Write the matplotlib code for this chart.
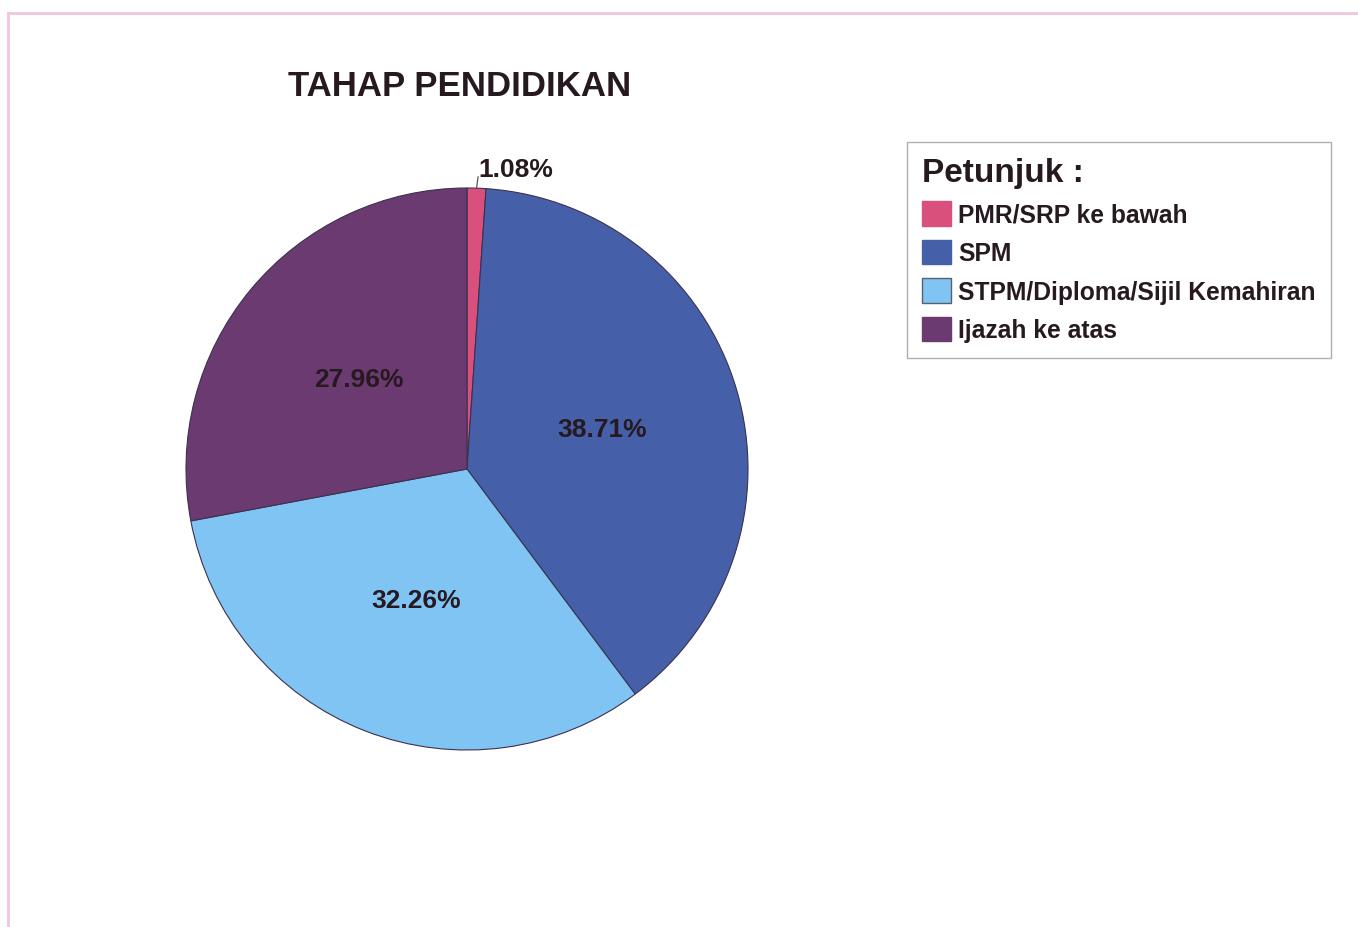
import numpy as np
import matplotlib
matplotlib.use("Agg")
import matplotlib.pyplot as plt
from matplotlib.patches import Patch
from matplotlib.lines import Line2D

plt.rcParams['font.family'] = ['Liberation Sans', 'DejaVu Sans']

categories = ["PMR/SRP ke bawah", "SPM", "STPM/Diploma/Sijil Kemahiran", "Ijazah ke atas"]
percents = [1.08, 38.71, 32.26, 27.96]
colors = ["#d9507c", "#4560a8", "#80c4f4", "#6a3a70"]

title = "TAHAP PENDIDIKAN"
legend_title = "Petunjuk :"
text_col = "#261a20"

fig = plt.figure(figsize=(13.58, 9.28), dpi=100)
fig.patch.set_facecolor("white")

# faint pink page border (top + left)
fig.add_artist(Line2D([8/1358, 1], [1-14/928, 1-14/928], color="#f2c4da", lw=2))
fig.add_artist(Line2D([8/1358, 8/1358], [0, 1-14/928], color="#f2c4da", lw=2))

# pie axes: centre ~(467,470) px, radius ~281 px
ax = fig.add_axes([(467-281)/1358, (928-751)/928, 562/1358, 562/928])
wedges, texts, autotexts = ax.pie(
    percents, colors=colors, startangle=90, counterclock=False,
    autopct=lambda p: f"{p:.2f}%", pctdistance=0.5,
    wedgeprops=dict(edgecolor="#3b3150", linewidth=0.8),
    textprops=dict(fontsize=19, fontweight="bold", color=text_col))
ax.set_xlim(-1, 1)
ax.set_ylim(-1, 1)
ax.set_aspect("auto")

# small slice: label outside with a leader line
w = wedges[0]
ang = np.deg2rad((w.theta1 + w.theta2) / 2)
x0, y0 = np.cos(ang), np.sin(ang)
x1, y1 = 1.04 * np.cos(ang) + 0.004, 1.04 * np.sin(ang)
ax.plot([x0, x1], [y0, y1], color="#555555", lw=0.9, clip_on=False)
autotexts[0].set_position((x1, y1 - 0.015))
autotexts[0].set_ha("left")
autotexts[0].set_va("bottom")

fig.text(460/1358, 1-86/928, title, ha="center", va="center",
         fontsize=25, fontweight="bold", color=text_col)

handles = [Patch(facecolor=c, edgecolor=c if i != 2 else "#556070", lw=1)
           for i, c in enumerate(colors)]
leg = fig.legend(handles, categories, loc="upper left",
                 bbox_to_anchor=(907/1358, 1-143/928),
                 title=legend_title, alignment="left",
                 title_fontproperties=dict(size=24, weight="bold"),
                 prop=dict(size=17.7, weight="bold"),
                 frameon=True, fancybox=False, edgecolor="#9a9aa0",
                 handlelength=1.15, handleheight=1.15, handletextpad=0.3,
                 labelspacing=0.53, borderpad=0.62, borderaxespad=0)
leg.get_frame().set_linewidth(1.0)
leg.get_title().set_color(text_col)
for t in leg.get_texts():
    t.set_color(text_col)

fig.savefig("out.png", dpi=100, facecolor="white")
